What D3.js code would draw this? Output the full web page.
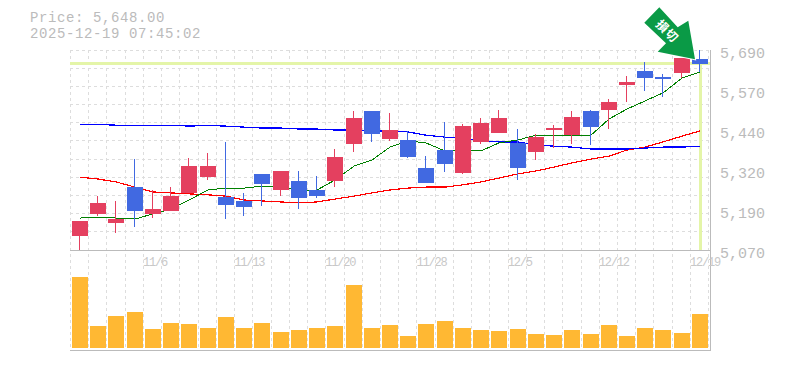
<!DOCTYPE html>
<html>
<head>
<meta charset="utf-8">
<script src="https://cdn.jsdelivr.net/npm/d3@7"></script>
<style>
  html, body { margin: 0; padding: 0; background: #fff; }
  svg { display: block; }
  text { font-family: "Liberation Mono", monospace; fill: #bbb; }
</style>
</head>
<body>
<div id="chart"></div>
<script>
// Daily candles, oldest first
const opens  = [5113, 5182, 5154, 5265, 5182, 5191, 5247, 5296, 5234, 5222, 5306, 5256, 5284, 5256, 5284, 5399, 5501, 5414, 5411, 5324, 5380, 5309, 5405, 5433, 5402, 5374, 5442, 5427, 5501, 5504, 5582, 5625, 5606, 5619, 5662];
const highs  = [5160, 5237, 5222, 5352, 5256, 5265, 5355, 5371, 5405, 5247, 5306, 5315, 5315, 5299, 5383, 5501, 5501, 5495, 5439, 5361, 5467, 5461, 5479, 5504, 5445, 5430, 5458, 5501, 5504, 5538, 5609, 5653, 5616, 5665, 5690];
const lows   = [5070, 5175, 5123, 5141, 5169, 5191, 5247, 5287, 5166, 5175, 5206, 5237, 5197, 5231, 5265, 5374, 5405, 5408, 5355, 5278, 5312, 5306, 5399, 5433, 5287, 5349, 5386, 5399, 5396, 5445, 5529, 5563, 5544, 5603, 5622];
const closes = [5160, 5216, 5166, 5191, 5197, 5237, 5330, 5330, 5210, 5203, 5275, 5315, 5231, 5237, 5358, 5479, 5430, 5442, 5358, 5278, 5337, 5454, 5464, 5479, 5324, 5420, 5448, 5482, 5451, 5529, 5591, 5603, 5600, 5665, 5648];

// Moving averages
const maShort = [5169, 5172, 5169, 5166, 5182, 5197, 5225, 5256, 5262, 5262, 5268, 5265, 5256, 5256, 5287, 5330, 5349, 5389, 5408, 5402, 5377, 5377, 5377, 5402, 5411, 5426, 5426, 5426, 5426, 5476, 5507, 5532, 5557, 5603, 5622];
const maMid   = [5459, 5459, 5457, 5457, 5457, 5457, 5454, 5456, 5454, 5451, 5448, 5448, 5445, 5445, 5442, 5442, 5439, 5439, 5436, 5426, 5420, 5417, 5408, 5405, 5405, 5395, 5392, 5389, 5383, 5383, 5383, 5386, 5389, 5389, 5392];
const maLong  = [5296, 5290, 5281, 5265, 5250, 5247, 5244, 5241, 5237, 5225, 5222, 5219, 5216, 5219, 5228, 5237, 5247, 5256, 5262, 5265, 5265, 5272, 5281, 5293, 5306, 5315, 5327, 5340, 5352, 5361, 5380, 5389, 5405, 5423, 5439];

const volumes = [71, 22, 32, 36, 19, 25, 24, 20, 31, 20, 25, 16, 18, 20, 22, 63, 20, 23, 12, 24, 27, 20, 18, 17, 19, 14, 13, 18, 14, 23, 12, 20, 18, 15, 34];

const dateTicks  = [4, 9, 14, 19, 24, 29, 34];
const dateLabels = ['11/6', '11/13', '11/20', '11/28', '12/5', '12/12', '12/19'];
const priceLabels = [5070, 5190, 5320, 5440, 5570, 5690];
const lastPrice = 5648;

const width = 785, height = 370;
const plotLeft = 70, plotRight = 710, priceTop = 50, priceBottom = 250, volBottom = 350;
const candleW = 16;

const svg = d3.select('#chart').append('svg')
  .attr('width', width)
  .attr('height', height);

// Band scale: step comes out at 18.235, snapped to whole pixels when drawn
const x = d3.scaleBand()
  .domain(d3.range(35))
  .range([71, 709.2]);
const barLeft = i => Math.round(x(i) + 1);
const barMid = i => barLeft(i) + candleW / 2;

const y = d3.scaleLinear().domain([5070, 5690]).range([priceBottom, priceTop]);
const yVol = d3.scaleLinear().domain([0, 100]).range([348, 248]);

// grid
const grid = svg.append('g')
  .attr('stroke', '#ddd')
  .attr('stroke-dasharray', '3 3')
  .attr('shape-rendering', 'crispEdges');
const rowScale = d3.scaleLinear().domain([0, 11]).range([priceTop, priceBottom]);
grid.selectAll('line.h')
  .data(d3.range(11))
  .join('line')
  .attr('class', 'h')
  .attr('x1', plotLeft)
  .attr('x2', plotRight - 2)
  .attr('y1', d => Math.floor(rowScale(d)) + 0.5)
  .attr('y2', d => Math.floor(rowScale(d)) + 0.5);
grid.selectAll('line.v')
  .data(d3.range(36))
  .join('line')
  .attr('class', 'v')
  .attr('x1', d => d < 35 ? barLeft(d) - 2 + 0.5 : 708.5)
  .attr('x2', d => d < 35 ? barLeft(d) - 2 + 0.5 : 708.5)
  .attr('y1', priceTop)
  .attr('y2', volBottom);

// frame
const frame = svg.append('g')
  .attr('stroke', '#bbb')
  .attr('stroke-width', 1.5)
  .attr('shape-rendering', 'crispEdges');
frame.append('line').attr('x1', plotLeft).attr('x2', plotRight).attr('y1', priceBottom + 0.5).attr('y2', priceBottom + 0.5);
frame.append('line').attr('x1', plotLeft).attr('x2', plotRight).attr('y1', volBottom + 0.5).attr('y2', volBottom + 0.5);
frame.append('line').attr('x1', plotRight + 0.5).attr('x2', plotRight + 0.5).attr('y1', priceTop).attr('y2', volBottom + 1);

// current price marker
const marker = svg.append('g')
  .attr('stroke', '#e4f5a8')
  .attr('stroke-width', 3)
  .attr('shape-rendering', 'crispEdges');
marker.append('line')
  .attr('x1', plotLeft).attr('x2', plotRight)
  .attr('y1', y(lastPrice)).attr('y2', y(lastPrice));
marker.append('line')
  .attr('x1', barMid(34)).attr('x2', barMid(34))
  .attr('y1', y(lastPrice)).attr('y2', priceBottom);

// volume
svg.append('g').selectAll('rect')
  .data(volumes)
  .join('rect')
  .attr('x', (d, i) => barLeft(i))
  .attr('y', d => yVol(d))
  .attr('width', candleW)
  .attr('height', d => yVol(0) - yVol(d))
  .attr('fill', '#ffb833');

// moving average lines, under the candles
const maLine = d3.line().x((d, i) => barMid(i)).y(d => y(d));
[[maLong, 'red'], [maMid, 'blue'], [maShort, 'green']].forEach(([values, color]) => {
  svg.append('path')
    .attr('d', maLine(values))
    .attr('fill', 'none')
    .attr('stroke', color)
    .attr('stroke-width', color === 'green' ? 1 : 1.2)
    .attr('shape-rendering', 'crispEdges');
});

// candles
const candleColor = i => closes[i] >= opens[i] ? '#e4405f' : '#4169e1';
const candles = svg.append('g').attr('shape-rendering', 'crispEdges');
candles.selectAll('line')
  .data(d3.range(35))
  .join('line')
  .attr('x1', i => barMid(i) - 0.5)
  .attr('x2', i => barMid(i) - 0.5)
  .attr('y1', i => y(highs[i]))
  .attr('y2', i => y(lows[i]))
  .attr('stroke', candleColor)
  .attr('stroke-width', 1);
candles.selectAll('rect')
  .data(d3.range(35))
  .join('rect')
  .attr('x', i => barLeft(i))
  .attr('y', i => y(Math.max(opens[i], closes[i])))
  .attr('width', candleW)
  .attr('height', i => Math.abs(y(opens[i]) - y(closes[i])))
  .attr('fill', candleColor);

// axes
const priceAxis = d3.axisRight(d3.scalePoint().domain(priceLabels).range([253, 53]))
  .tickSize(0)
  .tickPadding(0)
  .tickFormat(d3.format(','));
svg.append('g')
  .attr('transform', 'translate(720,0)')
  .call(priceAxis)
  .call(g => g.select('.domain').remove())
  .selectAll('text')
  .attr('x', 0)
  .style('font-family', '"Liberation Mono", monospace')
  .style('font-size', '15px')
  .attr('fill', '#bbb');

const dateAxis = d3.axisBottom(d3.scalePoint().domain(dateTicks).range([barMid(4), barMid(34)]))
  .tickSize(0)
  .tickPadding(0)
  .tickFormat(i => dateLabels[dateTicks.indexOf(i)]);
svg.append('g')
  .attr('transform', 'translate(0,266)')
  .call(dateAxis)
  .call(g => g.select('.domain').remove())
  .selectAll('text')
  .attr('y', 0)
  .attr('dy', 0)
  .attr('text-anchor', 'start')
  .attr('dx', -10.5)
  .style('font-family', '"Liberation Mono", monospace')
  .style('font-size', '12px')
  .style('letter-spacing', '-1.2px')
  .style('fill', '#c8c8c8');

// header
svg.append('text').attr('x', 30).attr('y', 22).attr('font-size', 14).attr('letter-spacing', 0.6).text('Price: 5,648.00');
svg.append('text').attr('x', 30).attr('y', 38).attr('font-size', 14).attr('letter-spacing', 0.6).text('2025-12-19 07:45:02');

// arrow, placed from the tip at the last candle
const tipX = barMid(34) - 5, tipY = y(highs[34]) + 9.3;
const arrow = svg.append('g').attr('transform', `translate(${tipX},${tipY})`);
arrow.append('polygon')
  .attr('points', '-35.7,-52 -17.3,-32 -6.7,-38.6 0,0 -37.3,-7.6 -29,-16 -50.7,-36.6')
  .attr('fill', '#0a9a46')
  .attr('stroke', '#fff')
  .attr('stroke-width', 2)
  .attr('paint-order', 'stroke');
arrow.append('text')
  .attr('transform', 'translate(-28,-28) rotate(45)')
  .attr('text-anchor', 'middle')
  .attr('dy', 4)
  .style('font-family', '"Noto Sans CJK JP"')
  .style('font-size', '12px')
  .style('font-weight', 'bold')
  .style('letter-spacing', '1px')
  .style('fill', '#fff')
  .text('損切');
</script>
</body>
</html>
